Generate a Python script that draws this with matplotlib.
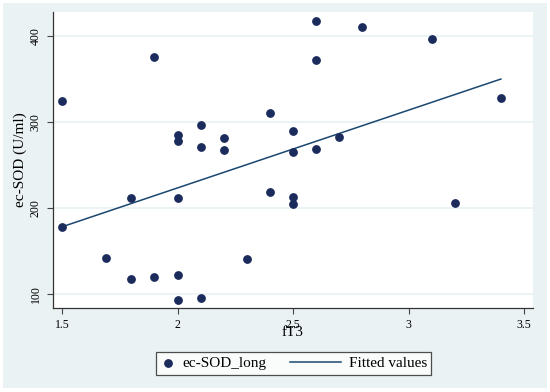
import matplotlib.pyplot as plt
from matplotlib.patches import Rectangle
from matplotlib.legend_handler import HandlerLine2D

# Valores
ft3 = [1.5, 1.5, 1.69, 1.8, 1.8, 1.9, 1.9, 2.0, 2.0, 2.0, 2.0, 2.0,
       2.1, 2.1, 2.1, 2.2, 2.2, 2.3, 2.4, 2.4, 2.5, 2.5, 2.5, 2.5,
       2.6, 2.6, 2.6, 2.7, 2.8, 3.1, 3.2, 3.4]
ecsod = [325, 178, 142, 211, 117, 376, 120, 285, 278, 211, 122, 93,
         296, 271, 95, 281, 267, 140, 310, 218, 289, 265, 213, 205,
         417, 372, 269, 282, 411, 397, 206, 328]

fit_x = [1.5, 3.4]
fit_y = [178, 350]

x_ticks = [1.5, 2, 2.5, 3, 3.5]
x_ticklabels = ["1.5", "2", "2.5", "3", "3.5"]
y_ticks = [100, 200, 300, 400]


# linea de la leyenda mas larga que el hueco del marcador
class LineaLarga(HandlerLine2D):
    def get_xdata(self, legend, xdescent, ydescent, width, height, fontsize):
        xd = [-xdescent - 2.4 * fontsize, -xdescent + width]
        return xd, xd


plt.rcParams['font.family'] = ['Liberation Serif', 'DejaVu Serif']

fig = plt.figure(figsize=(5.5, 3.92), dpi=100)
fig.patch.set_facecolor("white")
fig.patches.append(Rectangle((3 / 550, 4 / 392), 544 / 550, 385 / 392,
                             transform=fig.transFigure, facecolor="#eaf2f3",
                             edgecolor="none", zorder=-5))

ax = fig.add_axes([0.0964, 0.2143, 0.8727, 0.755])
ax.set_facecolor("white")

for yv in y_ticks:
    ax.axhline(yv, color="#eaf2f3", lw=1.3, zorder=1)

sc = ax.scatter(ft3, ecsod, s=28, color="#1a2b5c", zorder=3, label="ec-SOD_long")
ln, = ax.plot(fit_x, fit_y, color="#1a476f", lw=1.1, zorder=2, label="Fitted values")

ax.set_xlim(1.461, 3.539)
ax.set_ylim(83.5, 428)
ax.set_xticks(x_ticks)
ax.set_xticklabels(x_ticklabels)
ax.set_yticks(y_ticks)
ax.set_yticklabels([str(v) for v in y_ticks], rotation=90, va="center")
ax.tick_params(axis="both", labelsize=8.5, length=4, width=0.8, color="#444444", pad=4)

for s in ["top", "right"]:
    ax.spines[s].set_visible(False)
for s in ["left", "bottom"]:
    ax.spines[s].set_color("#333333")
    ax.spines[s].set_linewidth(0.9)

ax.set_xlabel("fT3", fontsize=11, labelpad=-4)
ax.set_ylabel("ec-SOD (U/ml)", fontsize=11, labelpad=2)

leg = fig.legend(handles=[sc, ln], loc="center", bbox_to_anchor=(0.534, 0.073),
                 ncol=2, fontsize=11, frameon=True, fancybox=False,
                 handlelength=0.9, columnspacing=4.0, borderpad=0.3,
                 handletextpad=0.5, handler_map={ln: LineaLarga()})
leg.get_frame().set_edgecolor("#222222")
leg.get_frame().set_linewidth(0.9)
leg.get_frame().set_facecolor("white")

plt.savefig("out.png", dpi=100, facecolor=fig.get_facecolor())
